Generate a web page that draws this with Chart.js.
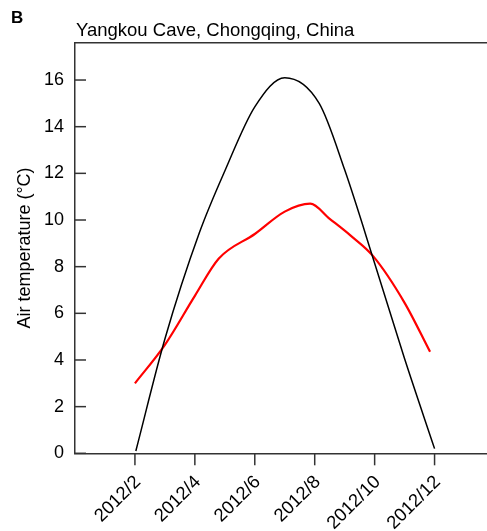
<!DOCTYPE html>
<html>
<head>
<meta charset="utf-8">
<script src="https://cdn.jsdelivr.net/npm/chart.js@4"></script>
<style>
  html, body { margin: 0; padding: 0; background: #fff; }
  #c { display: block; }
</style>
</head>
<body>
<canvas id="c" width="487" height="531"></canvas>
<script>
// ---- data (x = month of 2012) ----
const outsideMonth = [2.03, 3.0, 4.15, 5.0, 6.0, 7.0, 8.15, 9.0, 10.0, 11.0, 12.0];
const outsideTemp  = [0.1, 4.9, 9.45, 12.1, 14.85, 16.1, 15.0, 12.15, 8.15, 4.05, 0.2];
const caveMonth    = [2.0, 3.0, 4.0, 4.8, 6.0, 7.0, 7.85, 8.5, 9.2, 9.95, 11.0, 11.85];
const caveTemp     = [3.0, 4.65, 6.75, 8.35, 9.4, 10.36, 10.7, 10.05, 9.33, 8.45, 6.45, 4.35];
const xTickMonths  = [2, 4, 6, 8, 10, 12];
const xTickPrefix  = '2012/';
const yTickValues  = [0, 2, 4, 6, 8, 10, 12, 14, 16];
const panelLetter  = 'B';
const chartTitle   = 'Yangkou Cave, Chongqing, China';
const yAxisTitle   = 'Air temperature (°C)';

const FONT = "'Liberation Sans', Arial, sans-serif";
const AXIS_COLOR = '#333';

const toPoints = (xs, ys) => xs.map((x, i) => ({ x: x, y: ys[i] }));

const decorPlugin = {
  id: 'decor',
  afterDraw(chart) {
    const ctx = chart.ctx;
    const a = chart.chartArea;
    const xs = chart.scales.x, ys = chart.scales.y;
    ctx.save();
    ctx.strokeStyle = AXIS_COLOR;
    ctx.lineWidth = 1.5;
    ctx.beginPath();
    ctx.moveTo(a.left, a.top);
    ctx.lineTo(a.right, a.top);
    ctx.stroke();
    ys.ticks.forEach(t => {
      const py = ys.getPixelForValue(t.value);
      ctx.beginPath();
      ctx.moveTo(a.left, py);
      ctx.lineTo(a.left + 11, py);
      ctx.stroke();
    });
    xs.ticks.forEach(t => {
      const px = xs.getPixelForValue(t.value);
      ctx.beginPath();
      ctx.moveTo(px, a.bottom);
      ctx.lineTo(px, a.bottom + 12);
      ctx.stroke();
    });
    ctx.fillStyle = '#000';
    ctx.textBaseline = 'alphabetic';
    ctx.textAlign = 'left';
    ctx.font = 'bold 17px ' + FONT;
    ctx.fillText(panelLetter, 11, 23);
    ctx.font = '18.5px ' + FONT;
    ctx.fillText(chartTitle, 76, 36);
    ctx.restore();
  }
};

new Chart(document.getElementById('c'), {
  type: 'line',
  data: {
    datasets: [
      {
        label: 'Outside',
        data: toPoints(outsideMonth, outsideTemp),
        borderColor: '#000',
        borderWidth: 1.5,
        pointRadius: 0,
        fill: false,
        cubicInterpolationMode: 'monotone'
      },
      {
        label: 'Cave',
        data: toPoints(caveMonth, caveTemp),
        borderColor: '#ff0000',
        borderWidth: 2.2,
        pointRadius: 0,
        fill: false,
        cubicInterpolationMode: 'monotone'
      }
    ]
  },
  options: {
    responsive: false,
    animation: false,
    devicePixelRatio: 1,
    layout: { padding: { top: 42.7, right: 0, left: 0, bottom: 0 } },
    plugins: {
      legend: { display: false },
      tooltip: { enabled: false },
      title: { display: false }
    },
    scales: {
      x: {
        type: 'linear',
        min: 0,
        max: 13.75,
        afterFit: s => { s.height = 77.7; },
        afterBuildTicks: s => { s.ticks = xTickMonths.map(v => ({ value: v })); },
        grid: { display: false, drawTicks: false },
        border: { display: true, color: AXIS_COLOR, width: 1.5 },
        ticks: {
          autoSkip: false,
          minRotation: 45,
          maxRotation: 45,
          padding: 18,
          labelOffset: 3,
          color: '#000',
          font: { family: FONT, size: 18.5 },
          callback: v => xTickPrefix + v
        }
      },
      y: {
        type: 'linear',
        min: 0,
        max: 17.6,
        afterFit: s => { s.width = 75; },
        afterBuildTicks: s => { s.ticks = yTickValues.map(v => ({ value: v })); },
        grid: { display: false, drawTicks: false },
        border: { display: true, color: AXIS_COLOR, width: 1.5 },
        ticks: {
          padding: 11,
          color: '#000',
          font: { family: FONT, size: 18 }
        },
        title: {
          display: true,
          text: yAxisTitle,
          color: '#000',
          font: { family: FONT, size: 18 },
          padding: { top: 14, bottom: 0 }
        }
      }
    }
  },
  plugins: [decorPlugin]
});
</script>
</body>
</html>
